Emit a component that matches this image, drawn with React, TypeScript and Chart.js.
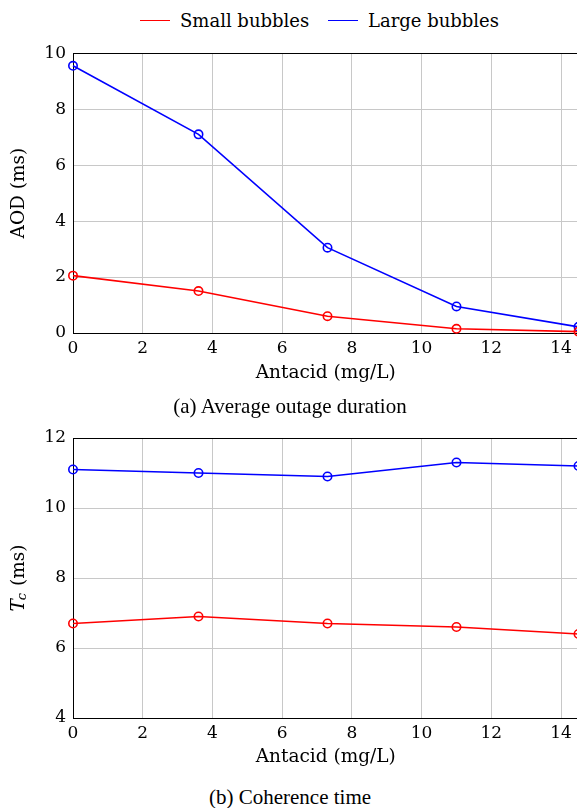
import React, { useEffect, useRef } from 'react';
import { Chart, registerables } from 'chart.js';
Chart.register(...registerables);

const antacid = [0, 3.6, 7.3, 11, 14.5];
const aodSmall = [2.05, 1.5, 0.6, 0.15, 0.05];
const aodLarge = [9.55, 7.1, 3.05, 0.95, 0.22];
const tcSmall = [6.7, 6.9, 6.7, 6.6, 6.4];
const tcLarge = [11.1, 11.0, 10.9, 11.3, 11.2];
const xTicks = [0, 2, 4, 6, 8, 10, 12, 14];
const aodTicks = [0, 2, 4, 6, 8, 10];
const tcTicks = [4, 6, 8, 10, 12];
const seriesNames = ['Small bubbles', 'Large bubbles'];
const seriesColors = ['#ff0000', '#0000ff'];
const xTitle = 'Antacid (mg/L)';
const captions = ['(a) Average outage duration', '(b) Coherence time'];

const FONT = "'DejaVu Serif', serif";
const CAPFONT = "'Liberation Serif', serif";
const FS = 17;
const TS = 18.5;

const framePlugin = {
  id: 'frame',
  beforeDatasetsDraw(chart: any) {
    const { ctx, chartArea } = chart;
    ctx.save();
    ctx.strokeStyle = '#000';
    ctx.lineWidth = 1;
    ctx.strokeRect(Math.round(chartArea.left) + 0.5, Math.round(chartArea.top) + 0.5,
      Math.round(chartArea.right - chartArea.left), Math.round(chartArea.bottom - chartArea.top));
    ctx.restore();
  },
};

function tcTitlePlugin(x: number) {
  return {
    id: 'tcTitle',
    afterDraw(chart: any) {
      const { ctx, chartArea } = chart;
      const cy = (chartArea.top + chartArea.bottom) / 2;
      ctx.save();
      ctx.translate(x, cy);
      ctx.rotate(-Math.PI / 2);
      ctx.fillStyle = '#000';
      ctx.textBaseline = 'middle';
      ctx.textAlign = 'left';
      const fT = `italic ${TS}px ${FONT}`;
      const fc = `italic 13px ${FONT}`;
      const fr = `${TS}px ${FONT}`;
      ctx.font = fT; const wT = ctx.measureText('T').width;
      ctx.font = fc; const wc = ctx.measureText('c').width;
      ctx.font = fr; const wr = ctx.measureText(' (ms)').width;
      const total = wT + wc + wr;
      let px = -total / 2;
      ctx.font = fT; ctx.fillText('T', px, 0); px += wT - 1;
      ctx.font = fc; ctx.fillText('c', px, 4); px += wc + 1;
      ctx.font = fr; ctx.fillText(' (ms)', px, 0);
      ctx.restore();
    },
  };
}

function makeConfig(small: number[], large: number[], yMin: number, yMax: number, yTicks: number[],
  yTitle: string | null, padTop: number, xHeight: number, titlePad: number) {
  const mk = (vals: number[], i: number) => ({
    label: seriesNames[i],
    data: antacid.map((x, k) => ({ x, y: vals[k] })),
    borderColor: seriesColors[i],
    backgroundColor: 'rgba(0,0,0,0)',
    pointBorderColor: seriesColors[i],
    pointBackgroundColor: 'rgba(0,0,0,0)',
    borderWidth: 1.6,
    pointRadius: 4.2,
    pointBorderWidth: 1.6,
    tension: 0,
    clip: false as any,
  });
  const plugins: any[] = [framePlugin];
  if (!yTitle) plugins.push(tcTitlePlugin(19));
  const font = { family: FONT, size: FS, lineHeight: 1.2 };
  const tfont = { family: FONT, size: TS, lineHeight: 1.2 };
  return {
    type: 'line' as const,
    data: { datasets: [mk(small, 0), mk(large, 1)] },
    options: {
      animation: false as const,
      responsive: false,
      maintainAspectRatio: false,
      layout: { padding: { top: padTop, right: 21.5, left: 0, bottom: 0 } },
      plugins: { legend: { display: false }, tooltip: { enabled: false } },
      scales: {
        x: {
          type: 'linear' as const,
          min: 0,
          max: 14.5,
          afterBuildTicks: (s: any) => { s.ticks = xTicks.map((v) => ({ value: v })); },
          afterFit: (s: any) => { s.height = xHeight; },
          grid: { color: '#c8c8c8', lineWidth: 1, drawTicks: false },
          border: { display: true, color: '#000', width: 1 },
          ticks: { padding: 5, color: '#000', font, maxRotation: 0 },
          title: { display: true, text: xTitle, color: '#000', font: tfont, padding: { top: 0, bottom: titlePad } },
        },
        y: {
          type: 'linear' as const,
          min: yMin,
          max: yMax,
          afterBuildTicks: (s: any) => { s.ticks = yTicks.map((v) => ({ value: v })); },
          afterFit: (s: any) => { s.width = 73; },
          grid: { color: '#c8c8c8', lineWidth: 1, drawTicks: false },
          border: { display: true, color: '#000', width: 1 },
          ticks: { padding: 7, color: '#000', font },
          title: { display: !!yTitle, text: yTitle || '', color: '#000', font: tfont, padding: { top: 8, bottom: 0 } },
        },
      },
    },
    plugins,
  };
}

function ChartCanvas(props: { cfg: any; top: number; height: number }) {
  const ref = useRef<HTMLCanvasElement>(null);
  useEffect(() => {
    const c = new Chart(ref.current as HTMLCanvasElement, props.cfg);
    return () => c.destroy();
  }, []);
  return (
    <canvas ref={ref} width={600} height={props.height}
      style={{ position: 'absolute', left: 0, top: props.top, width: 600, height: props.height }} />
  );
}

export default function App() {
  const cfgA = makeConfig(aodSmall, aodLarge, 0, 10, aodTicks, 'AOD (ms)', 16, 63, 12);
  const cfgB = makeConfig(tcSmall, tcLarge, 4, 12, tcTicks, null, 18, 62, 12);
  const legendItem = (i: number, left: number) => (
    <div style={{ position: 'absolute', left, top: 8, height: 24, display: 'flex', alignItems: 'center' }}>
      <div style={{ width: 30, height: 0, borderTop: `1.6px solid ${seriesColors[i]}`, marginRight: 10 }} />
      <span style={{ fontFamily: FONT, fontSize: 18, color: '#000', whiteSpace: 'nowrap' }}>{seriesNames[i]}</span>
    </div>
  );
  const capStyle: any = { position: 'absolute', left: 0, width: 580, textAlign: 'center', fontFamily: CAPFONT, fontSize: 21, lineHeight: '26px', color: '#000' };
  return (
    <div style={{ position: 'fixed', left: 0, top: 0, width: 577, height: 808, overflow: 'hidden', background: '#fff' }}>
      {legendItem(0, 140)}
      {legendItem(1, 328)}
      <ChartCanvas cfg={cfgA} top={36} height={360} />
      <ChartCanvas cfg={cfgB} top={420} height={360} />
      <div style={{ ...capStyle, top: 393 }}>{captions[0]}</div>
      <div style={{ ...capStyle, top: 784 }}>{captions[1]}</div>
    </div>
  );
}
